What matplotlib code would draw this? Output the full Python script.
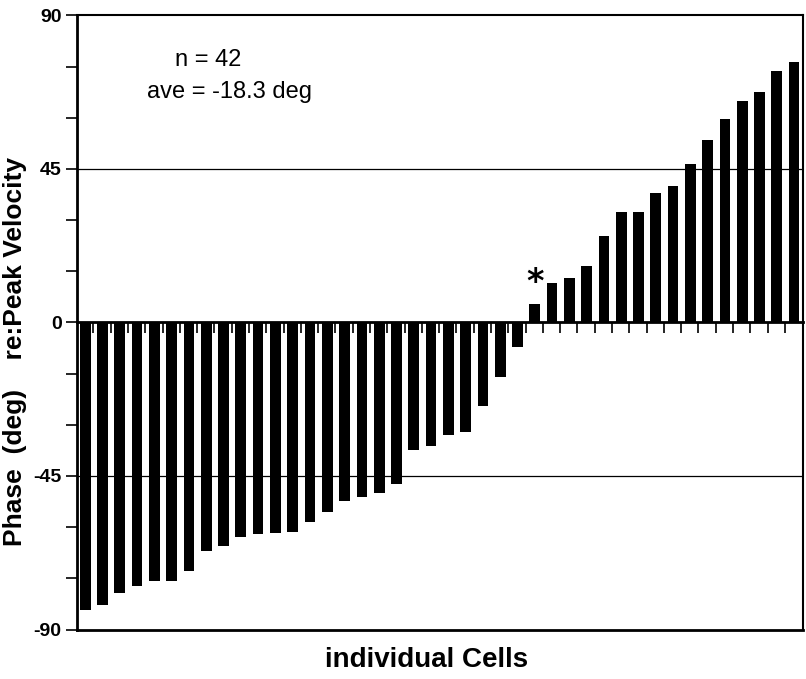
import matplotlib.pyplot as plt
import numpy as np

# phase of each cell re: peak velocity (deg), sorted
phase = [-84.3, -82.8, -79.4, -77.3, -75.9, -75.7, -72.8, -67.0, -65.4, -62.9,
         -62.1, -61.7, -61.5, -58.6, -55.6, -52.4, -51.1, -50.1, -47.3, -37.5,
         -36.3, -33.1, -32.2, -24.5, -16.1, -7.1, 5.3, 11.5, 12.9, 16.7,
         25.4, 32.5, 32.5, 37.9, 39.9, 46.5, 53.5, 59.8, 64.9, 67.5,
         73.6, 76.4]
marked_cell = 26
yticks = [-90, -45, 0, 45, 90]
n_cells = len(phase)
ave = -18.3

plt.rcParams['font.family'] = ['Liberation Sans', 'DejaVu Sans']

fig = plt.figure(figsize=(8.06, 6.79), dpi=100)
ax = fig.add_axes([0.0955, 0.0729, 0.9008, 0.9043])

x = np.arange(n_cells) + 0.48
ax.bar(x, phase, width=0.62, color='black', zorder=3)

ax.set_xlim(0, n_cells)
ax.set_ylim(-90, 90)
ax.set_yticks(yticks)
ax.set_yticks(np.arange(-90, 91, 15), minor=True)
ax.set_yticklabels([str(t) for t in yticks], fontsize=14, fontweight='bold')
ax.tick_params(axis='y', which='both', direction='out', length=8, width=1.2, pad=3)
ax.set_xticks([])

for s in ['left', 'bottom']:
    ax.spines[s].set_linewidth(2)
for s in ['top', 'right']:
    ax.spines[s].set_linewidth(1.5)

ax.axhline(45, color='black', lw=0.9, zorder=1)
ax.axhline(-45, color='black', lw=0.9, zorder=1)

# zero line with little ticks between the bars (pointing down)
zx = ax.secondary_xaxis(0.5)
zx.set_xticks(np.arange(n_cells - 1) + 0.95)
zx.set_xticklabels([])
zx.tick_params(direction='in', length=8, width=1.2)
for s in zx.spines.values():
    s.set_linewidth(2)

ax.text(marked_cell + 0.48, phase[marked_cell] + 1.5, '*', ha='center', va='bottom',
        fontsize=24, fontweight='bold', family='DejaVu Sans')

ax.text(5.66, 77, 'n = %d' % n_cells, fontsize=17, va='center', ha='left')
ax.text(4.05, 67.6, 'ave = %.1f deg' % ave, fontsize=17, va='center', ha='left')

fig.text(427 / 806, 1 - 660 / 679, 'individual Cells', ha='center', va='center',
         fontsize=20, fontweight='bold')
fig.text(15 / 806, 1 - 352 / 679, 'Phase  (deg)    re:Peak Velocity', ha='center',
         va='center', rotation=90, fontsize=19, fontweight='bold')

fig.savefig('out.png', dpi=100)
